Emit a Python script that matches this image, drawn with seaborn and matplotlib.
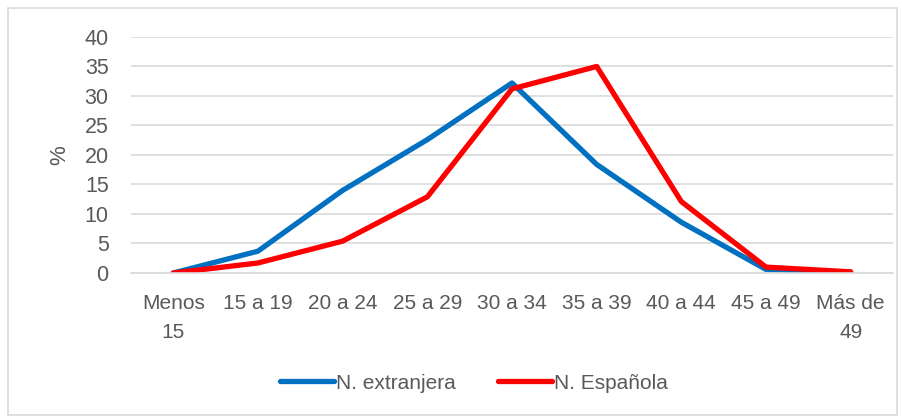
import numpy as np
import pandas as pd
import matplotlib
matplotlib.use("Agg")
import matplotlib.pyplot as plt
import seaborn as sns
from matplotlib.patches import Rectangle

categories = ["Menos\n15", "15 a 19", "20 a 24", "25 a 29", "30 a 34",
              "35 a 39", "40 a 44", "45 a 49", "Más de\n49"]
extranjera = [0.0, 3.7, 14.0, 22.6, 32.2, 18.4, 8.6, 0.6, 0.0]
espanola = [0.0, 1.7, 5.4, 12.9, 31.2, 35.0, 12.1, 1.0, 0.2]
series_names = ["N. extranjera", "N. Española"]
colors = ["#0070C0", "#FF0000"]
yticks = [0, 5, 10, 15, 20, 25, 30, 35, 40]

idx = np.arange(len(categories))
df = pd.DataFrame({
    "pos": np.concatenate([idx, idx]),
    "value": extranjera + espanola,
    "serie": [series_names[0]] * len(idx) + [series_names[1]] * len(idx),
})

sns.set_style("white")
plt.rcParams["font.family"] = ["Liberation Sans", "DejaVu Sans"]
txt = "#595959"

fig = plt.figure(figsize=(9.03, 4.2), dpi=100)
ax = fig.add_axes([0.145, 0.35, 0.844, 0.562])

sns.lineplot(data=df, x="pos", y="value", hue="serie", palette=colors,
             linewidth=3.8, ax=ax, sort=False, legend=False)

ax.set_xlim(-0.5, len(categories) - 0.5)
ax.set_ylim(0, 40)
ax.set_yticks(yticks)
ax.set_yticklabels([str(v) for v in yticks], fontsize=15.5, color=txt)
ax.set_xticks(idx)
ax.set_xticklabels(categories, fontsize=15, color=txt, linespacing=1.65)
ax.set_xticks(np.arange(-0.5, len(categories)), minor=True)
ax.tick_params(axis="x", which="major", length=0, pad=15)
ax.tick_params(axis="x", which="minor", length=7, color="#d9d9d9", width=1.2)
ax.tick_params(axis="y", length=0, pad=16)
ax.yaxis.grid(True, color="#d9d9d9", linewidth=1.2)
ax.set_axisbelow(True)
for s in ["top", "right", "left"]:
    ax.spines[s].set_visible(False)
ax.spines["bottom"].set_color("#d9d9d9")
ax.spines["bottom"].set_linewidth(1.2)
ax.set_xlabel("")
ax.set_ylabel("%", fontsize=16, color=txt, labelpad=10)

handles = [plt.Line2D([], [], color=c, linewidth=3.8) for c in colors]
fig.legend(handles, series_names, loc="center", bbox_to_anchor=(0.525, 0.088),
           ncol=2, frameon=False, fontsize=15, labelcolor=txt,
           handlelength=2.6, handletextpad=0.1, columnspacing=2.0)

fig.patches.append(Rectangle((0.009, 0.012), 0.984, 0.968, transform=fig.transFigure,
                             fill=False, edgecolor="#d9d9d9", linewidth=1.2))

fig.savefig("out.png", dpi=100)
